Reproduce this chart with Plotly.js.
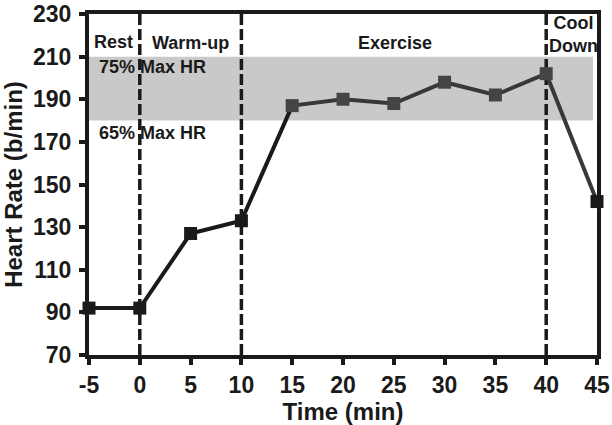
<!DOCTYPE html>
<html>
<head>
<meta charset="utf-8">
<script src="https://cdn.plot.ly/plotly-3.0.1.min.js"></script>
<style>html,body{margin:0;padding:0;background:#fff;}#chart{width:612px;height:425px;}</style>
</head>
<body>
<div id="chart"></div>
<script>
const timeMin = [-5, 0, 5, 10, 15, 20, 25, 30, 35, 40, 45];
const heartRate = [92, 92, 127, 133, 187, 190, 188, 198, 192, 202, 142];
const markerColors = ['#1a1a1a','#1a1a1a','#1a1a1a','#1a1a1a','#444444','#444444','#444444','#444444','#444444','#444444','#1a1a1a'];
const phaseBoundaries = [0, 10, 40];
const zoneLow = 180, zoneHigh = 210;
const phaseLabels = [
  {text: 'Rest', x: -2.6, y: 217},
  {text: 'Warm-up', x: 5, y: 216.5},
  {text: 'Exercise', x: 25.1, y: 216.5},
  {text: 'Cool<br>Down', x: 42.7, y: 220.5}
];
const zoneLabels = [
  {text: '75% Max HR', x: -4.2, y: 205},
  {text: '65% Max HR', x: -4.2, y: 174.2}
];
const xTicks = [-5, 0, 5, 10, 15, 20, 25, 30, 35, 40, 45];
const yTicks = [70, 90, 110, 130, 150, 170, 190, 210, 230];

const FONT = 'Liberation Sans, Arial, Helvetica, sans-serif';

const traces = [
  {
    x: timeMin.slice(0, 5), y: heartRate.slice(0, 5),
    mode: 'lines', line: {color: '#1a1a1a', width: 4},
    cliponaxis: false, hoverinfo: 'skip', showlegend: false
  },
  {
    x: timeMin.slice(4), y: heartRate.slice(4),
    mode: 'lines', line: {color: '#383838', width: 4},
    cliponaxis: false, hoverinfo: 'skip', showlegend: false
  },
  {
    x: timeMin, y: heartRate, mode: 'markers',
    marker: {symbol: 'square', size: 13, color: markerColors},
    cliponaxis: false, showlegend: false
  }
];

const shapes = [
  {type: 'rect', xref: 'x', yref: 'y', x0: -5, x1: 44.6, y0: zoneLow, y1: zoneHigh,
   fillcolor: '#c9c9c9', line: {width: 0}, layer: 'below'}
].concat(phaseBoundaries.map(b => ({
  type: 'line', xref: 'x', yref: 'y', x0: b, x1: b, y0: 70, y1: 230,
  line: {color: '#1a1a1a', width: 3.5, dash: '11px,4px'}, layer: 'below'
})));

const annotations = phaseLabels.concat(zoneLabels).map((a, i) => ({
  text: a.text, x: a.x, y: a.y, xref: 'x', yref: 'y', showarrow: false,
  xanchor: i >= phaseLabels.length ? 'left' : 'center', yanchor: 'middle',
  font: {family: FONT, size: 18, color: '#1a1a1a', weight: 'bold'}
}));

const layout = {
  width: 612, height: 425,
  margin: {l: 89, r: 15, t: 14, b: 70, pad: 0},
  paper_bgcolor: '#fff', plot_bgcolor: '#fff',
  font: {family: FONT, color: '#1a1a1a', weight: 'bold'},
  showlegend: false,
  xaxis: {
    range: [-5, 45], tickvals: xTicks, ticktext: xTicks.map(String),
    showline: true, mirror: true, linecolor: '#1a1a1a', linewidth: 4,
    ticks: 'outside', ticklen: 6, tickwidth: 4, tickcolor: '#1a1a1a',
    showgrid: false, zeroline: false,
    tickfont: {family: FONT, size: 23, color: '#1a1a1a', weight: 'bold'},
    title: {text: 'Time (min)', font: {family: FONT, size: 24, color: '#1a1a1a', weight: 'bold'}, standoff: 4}
  },
  yaxis: {
    range: [70, 230], tickvals: yTicks, ticktext: yTicks.map(String),
    showline: true, mirror: true, linecolor: '#1a1a1a', linewidth: 4,
    ticks: 'outside', ticklen: 6, tickwidth: 4, tickcolor: '#1a1a1a',
    showgrid: false, zeroline: false, ticklabelstandoff: 3,
    tickfont: {family: FONT, size: 23, color: '#1a1a1a', weight: 'bold'},
    title: {text: 'Heart Rate (b/min)', font: {family: FONT, size: 24, color: '#1a1a1a', weight: 'bold'}, standoff: 6}
  },
  shapes: shapes,
  annotations: annotations
};

Plotly.newPlot('chart', traces, layout, {staticPlot: true, displayModeBar: false});
</script>
</body>
</html>
